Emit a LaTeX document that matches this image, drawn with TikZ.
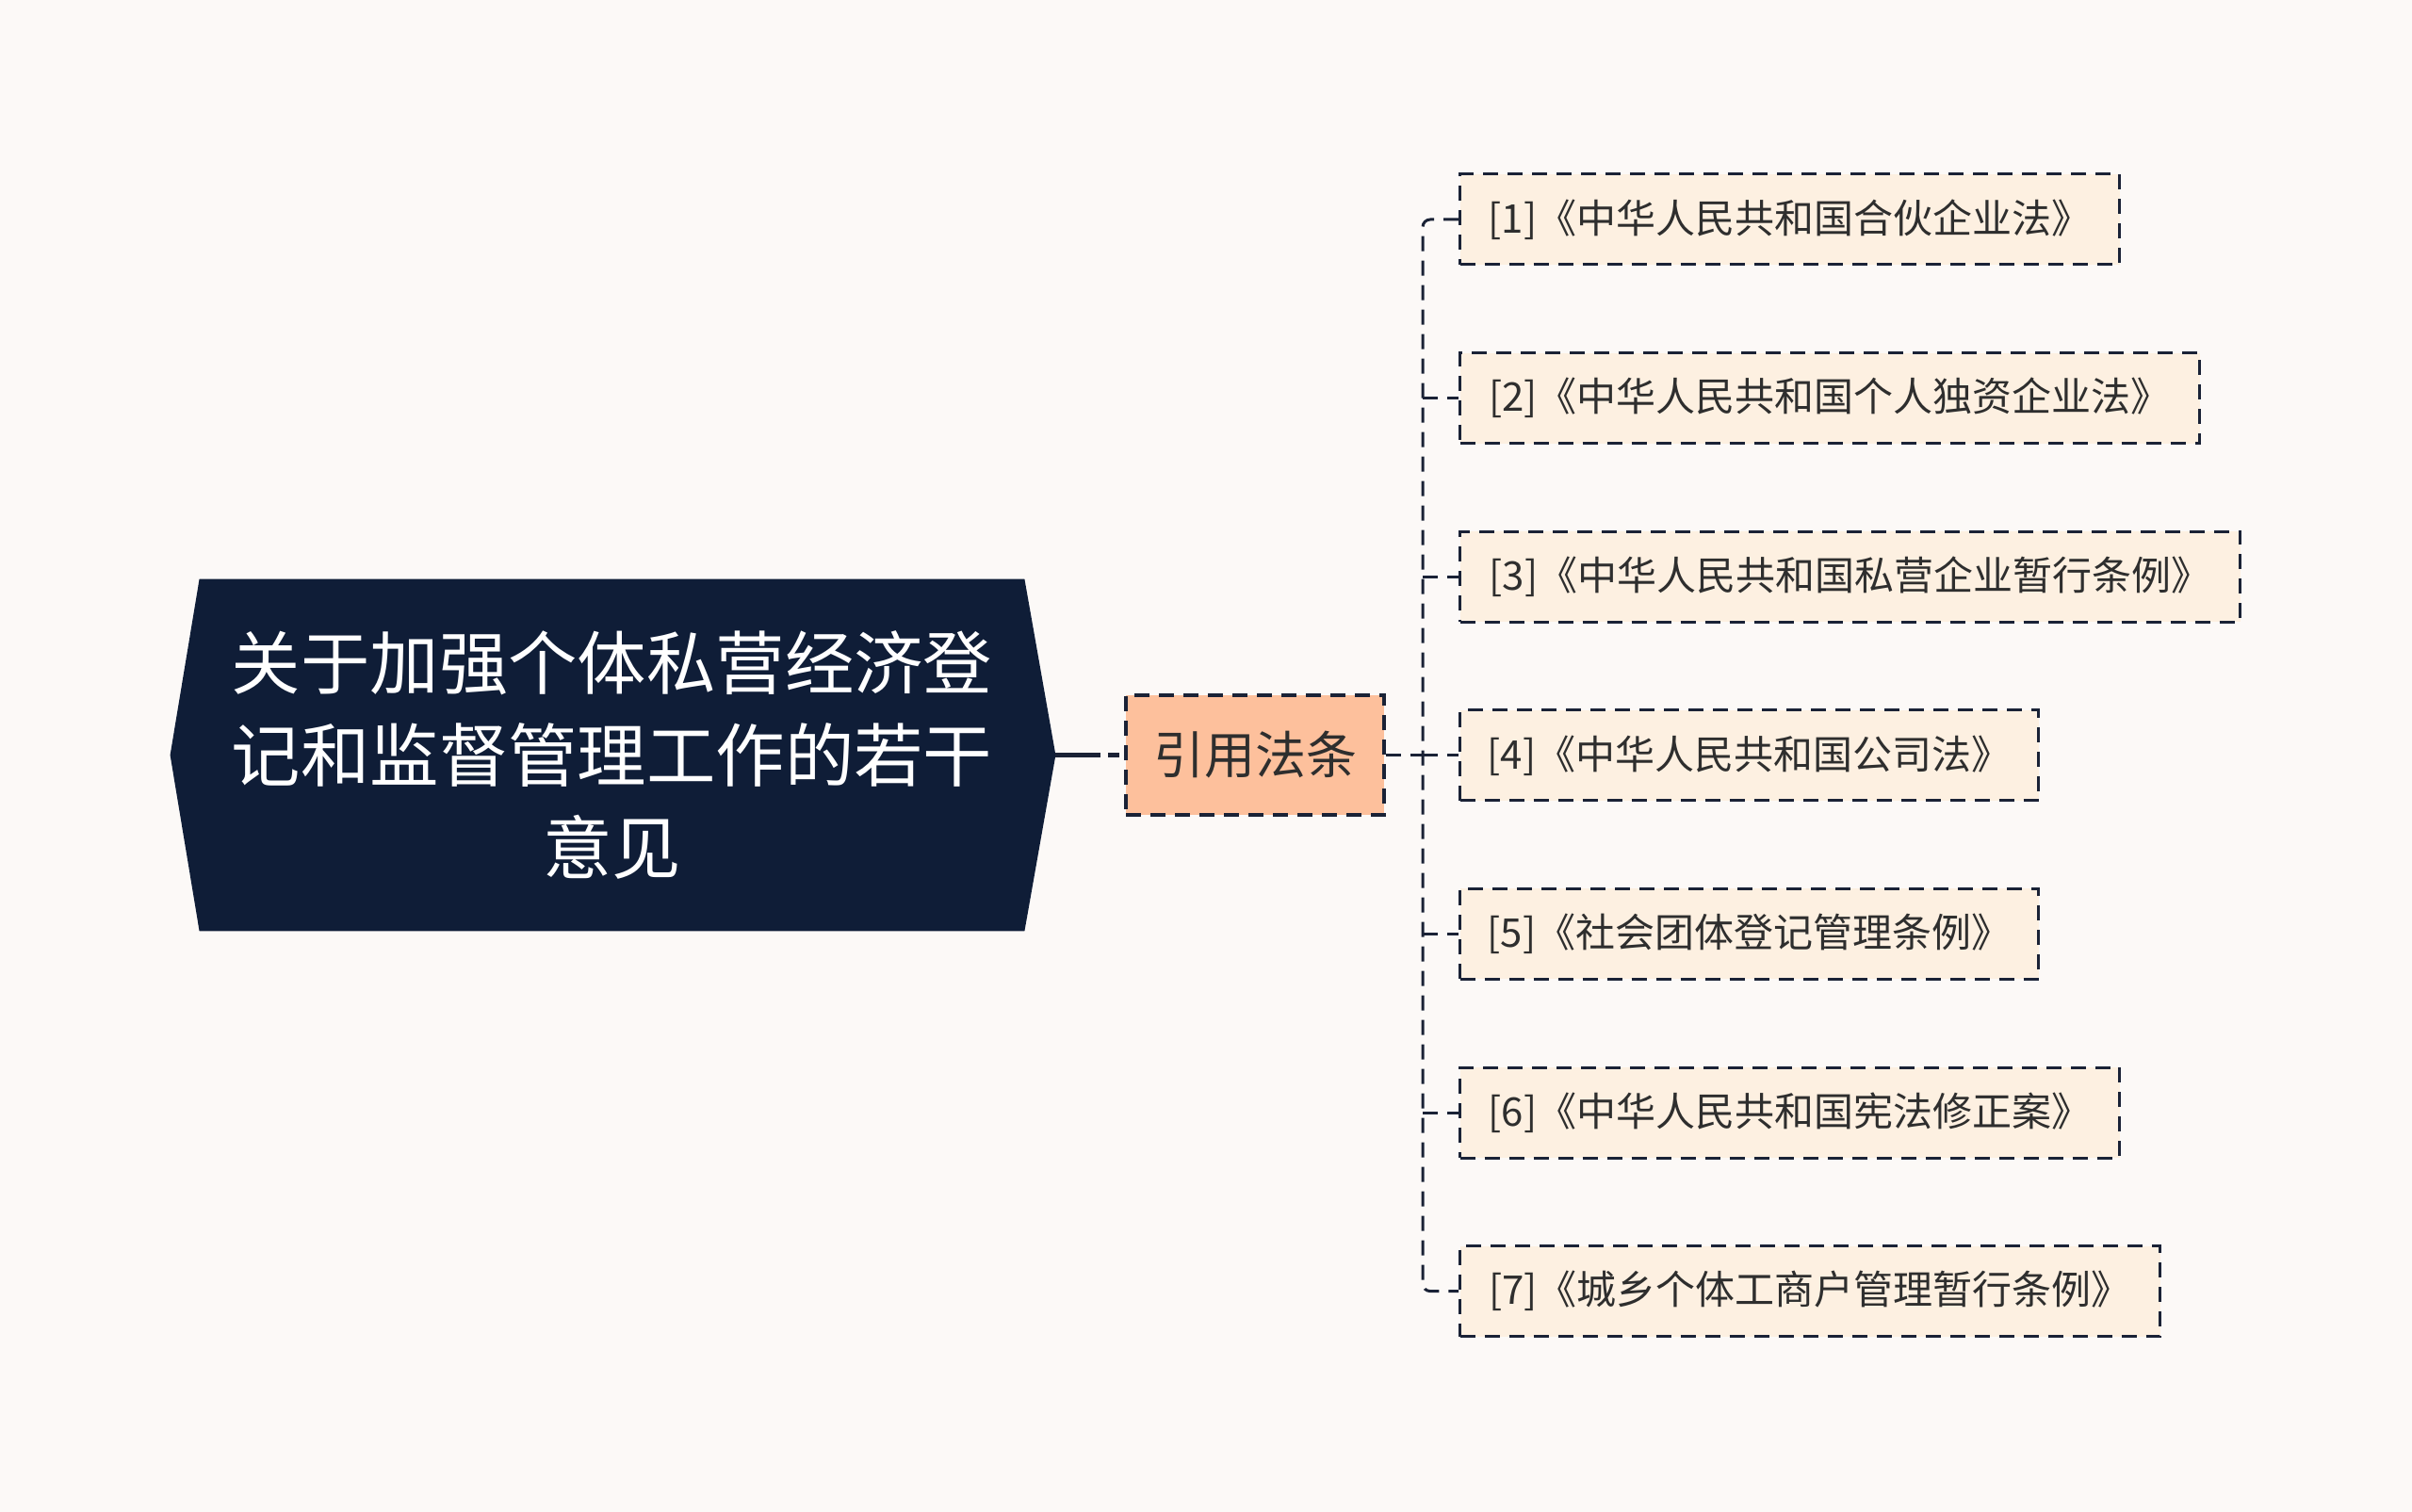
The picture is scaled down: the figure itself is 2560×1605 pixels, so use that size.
\documentclass[tikz,border=0pt]{standalone}
\usepackage{fontspec}
\setmainfont{Noto Sans CJK SC}
\pgfdeclarelayer{background}
\pgfsetlayers{background,main}
\definecolor{paper}{HTML}{FCF9F7}
\definecolor{navy}{HTML}{0F1D37}
\definecolor{ink}{HTML}{1A2236}
\definecolor{peach}{HTML}{FDC09C}
\definecolor{cream}{HTML}{FDF0E1}
\definecolor{txt}{HTML}{2E2E2E}
\tikzstyle{topic}=[minimum width=437.5pt,minimum height=186.5pt,inner sep=0pt,align=center,text=white,font=\fontsize{36.7}{49}\selectfont]
\tikzstyle{law group}=[draw=ink,fill=peach,line width=1.7pt,dash pattern=on 8pt off 5pt,minimum width=137pt,minimum height=63.5pt,inner sep=0pt,text=txt,font=\fontsize{27}{32}\selectfont]
\tikzstyle{law}=[draw=ink,fill=cream,line width=1.5pt,dash pattern=on 8pt off 5pt,minimum height=48pt,inner sep=0pt,anchor=west,text=txt,font=\fontsize{21}{25}\selectfont]
\tikzstyle{link}=[draw=ink,line width=1.5pt,dash pattern=on 8pt off 5pt]

\begin{document}
\begin{tikzpicture}[x=0.5pt,y=-0.5pt]
    \useasboundingbox (0,0) rectangle (2560,1605);
    \node[topic] (root) at (649.5,801.5) {关于加强个体私营经济登\\记和监督管理工作的若干\\意见};
    \node[law group] (refs) at (1332,801.5) {引用法条};
    \foreach \i/\w/\txt in {1/350/{[1]《中华人民共和国合伙企业法》},
                            2/392.5/{[2]《中华人民共和国个人独资企业法》},
                            3/414/{[3]《中华人民共和国私营企业暂行条例》},
                            4/307/{[4]《中华人民共和国公司法》},
                            5/307/{[5]《社会团体登记管理条例》},
                            6/350/{[6]《中华人民共和国宪法修正案》},
                            7/371.5/{[7]《城乡个体工商户管理暂行条例》}}
        \node[law,minimum width=\w pt] (law\i) at (1548,{233+(\i-1)*189.6}) {\txt};
    \coordinate (trunk) at (1510,801.5);
    \path[link] (refs.east) -- (trunk);
    \path[link,rounded corners=4pt] (law1.west) -| (trunk) |- (law7.west);
    \foreach \i in {2,...,6}
        \path[link] (trunk |- law\i.west) -- (law\i.west);

    \begin{pgfonlayer}{background}
        \fill[paper] (0,0) rectangle (2560,1605);
        \fill[navy] (root.north west) -- (root.north east) -- ([xshift=16.5pt]root.east)
            -- (root.south east) -- (root.south west) -- ([xshift=-15.5pt]root.west) -- cycle;
        \draw[ink,line width=2.5pt,dash pattern=on 24pt off 4pt on 6pt off 10pt] ([xshift=16.5pt]root.east) -- (refs.west);
    \end{pgfonlayer}
\end{tikzpicture}
\end{document}
